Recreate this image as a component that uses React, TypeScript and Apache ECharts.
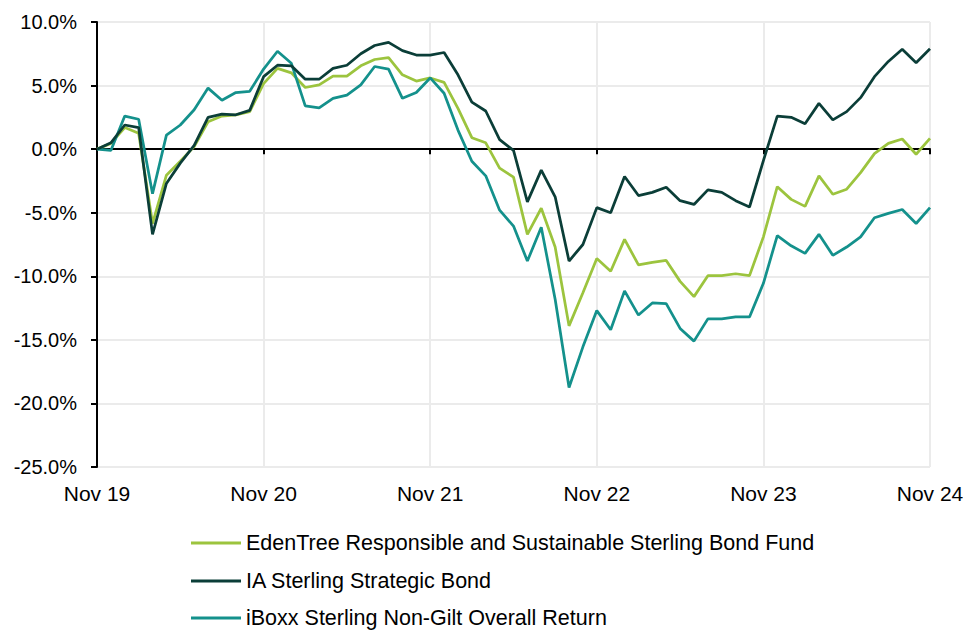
import React, { useEffect, useRef } from "react";
import * as echarts from "echarts";

const yearLabels: Record<number, string> = { 0: "Nov 19", 12: "Nov 20", 24: "Nov 21", 36: "Nov 22", 48: "Nov 23", 60: "Nov 24" };
const months: string[] = Array.from({ length: 61 }, (_, i) => yearLabels[i] ?? `m${i}`);

const seriesNames = [
  "EdenTree Responsible and Sustainable Sterling Bond Fund",
  "IA Sterling Strategic Bond",
  "iBoxx Sterling Non-Gilt Overall Return",
];

const edenTree = [
  0, 0.45, 1.7, 1.25, -5.85, -2.05, -0.95, 0.2, 2.15, 2.6, 2.7, 2.95,
  5.15, 6.35, 6.0, 4.85, 5.05, 5.75, 5.75, 6.55, 7.05, 7.2, 5.85, 5.35,
  5.6, 5.25, 3.2, 0.9, 0.5, -1.5, -2.2, -6.7, -4.65, -7.7, -13.9, -11.3,
  -8.6, -9.6, -7.1, -9.1, -8.9, -8.75, -10.4, -11.6, -9.95, -9.95, -9.8, -9.95,
  -6.9, -2.95, -3.95, -4.5, -2.1, -3.55, -3.15, -1.85, -0.35, 0.45, 0.8, -0.4,
  0.85,
];

const iaStrategic = [
  0, 0.5, 1.9, 1.7, -6.7, -2.7, -1.1, 0.3, 2.5, 2.75, 2.7, 3.05,
  5.7, 6.6, 6.55, 5.5, 5.5, 6.35, 6.6, 7.5, 8.15, 8.4, 7.75, 7.4,
  7.4, 7.6, 5.85, 3.7, 3.0, 0.75, -0.1, -4.15, -1.65, -3.75, -8.8, -7.5,
  -4.6, -5.0, -2.15, -3.65, -3.4, -3.0, -4.05, -4.35, -3.2, -3.4, -4.05, -4.55,
  -0.9, 2.6, 2.5, 2.0, 3.6, 2.3, 2.95, 4.05, 5.7, 6.9, 7.85, 6.8,
  7.9,
];

const iBoxx = [
  0, -0.1, 2.6, 2.35, -3.5, 1.1, 1.9, 3.1, 4.8, 3.85, 4.45, 4.55,
  6.3, 7.7, 6.75, 3.4, 3.25, 4.0, 4.25, 5.05, 6.5, 6.3, 4.0, 4.45,
  5.6, 4.4, 1.5, -0.95, -2.1, -4.8, -6.05, -8.8, -6.15, -11.8, -18.75, -15.55,
  -12.7, -14.2, -11.15, -13.05, -12.1, -12.15, -14.1, -15.1, -13.35, -13.35, -13.2, -13.2,
  -10.55, -6.8, -7.6, -8.2, -6.7, -8.35, -7.7, -6.9, -5.4, -5.05, -4.75, -5.85,
  -4.6,
];

const colors = ["#9cc43e", "#0b3e38", "#14918c"];
const FONT = "'Liberation Sans', Arial, sans-serif";
const legendTops = [527, 565, 602];

export default function App() {
  const ref = useRef<HTMLDivElement>(null);
  useEffect(() => {
    if (!ref.current) return;
    const chart = echarts.init(ref.current, undefined, { renderer: "svg" });
    const values = [edenTree, iaStrategic, iBoxx];
    chart.setOption({
      animation: false,
      color: colors,
      textStyle: { fontFamily: FONT },
      grid: { left: 97, right: 33, top: 22, bottom: 163, containLabel: false, outerBoundsMode: "none" },
      legend: seriesNames.map((name, k) => ({
        orient: "horizontal",
        left: 186,
        top: legendTops[k],
        itemWidth: 50,
        itemHeight: 3,
        icon: "rect",
        textStyle: { fontSize: 21.5, color: "#000", fontFamily: FONT },
        data: [name],
      })),
      xAxis: [
        {
          type: "category",
          data: months,
          boundaryGap: false,
          position: "bottom",
          axisLine: { show: false, onZero: false },
          axisTick: { show: false },
          axisLabel: {
            interval: 11,
            fontSize: 21,
            color: "#000",
            fontFamily: FONT,
            margin: 16,
            hideOverlap: false,
            formatter: (v: string) => (v.startsWith("m") ? "" : v),
          },
          splitLine: { show: true, interval: 11, lineStyle: { color: "#ebebeb", width: 2 } },
        },
        {
          type: "category",
          data: months,
          boundaryGap: false,
          position: "bottom",
          axisLine: { show: true, onZero: true, lineStyle: { color: "#000", width: 2 } },
          axisTick: { show: true, interval: 11, length: 5, lineStyle: { color: "#000", width: 2 } },
          axisLabel: { show: false },
          splitLine: { show: false },
        },
      ],
      yAxis: {
        type: "value",
        min: -25,
        max: 10,
        interval: 5,
        axisLine: { show: true, lineStyle: { color: "#000", width: 2 } },
        axisTick: { show: true, length: 6, lineStyle: { color: "#000", width: 2 } },
        axisLabel: {
          fontSize: 20,
          color: "#000",
          fontFamily: FONT,
          margin: 20,
          formatter: (v: number) => v.toFixed(1) + "%",
        },
        splitLine: { show: true, lineStyle: { color: "#ebebeb", width: 2 } },
      },
      series: seriesNames.map((name, k) => ({
        name,
        type: "line",
        xAxisIndex: 0,
        data: values[k],
        symbol: "none",
        lineStyle: { width: 2.75, color: colors[k] },
        itemStyle: { color: colors[k] },
        z: 3 + (k === 1 ? 1 : 0),
      })),
    });
    return () => chart.dispose();
  }, []);
  return <div ref={ref} style={{ width: 963, height: 630, position: "absolute", left: 0, top: 0 }} />;
}
